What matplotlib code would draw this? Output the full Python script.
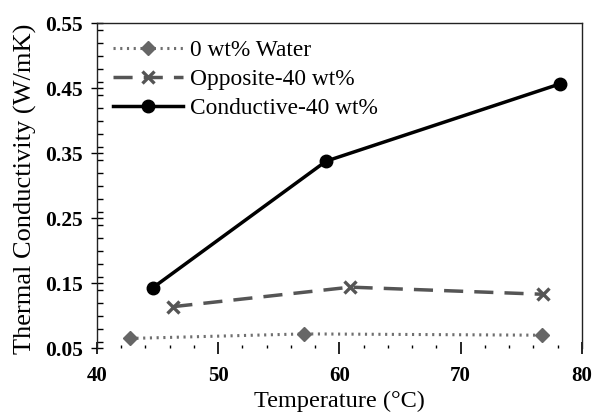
import matplotlib
matplotlib.use("Agg")
import matplotlib.pyplot as plt
from matplotlib.ticker import MultipleLocator, FixedLocator

plt.rcParams['font.family'] = ['Liberation Serif', 'DejaVu Serif']

# Data
water_x = [42.7, 57.1, 76.7]
water_y = [0.065, 0.072, 0.070]
opp_x = [46.3, 60.9, 76.8]
opp_y = [0.114, 0.144, 0.133]
cond_x = [44.6, 58.9, 78.2]
cond_y = [0.143, 0.338, 0.457]

labels = ["0 wt% Water", "Opposite-40 wt%", "Conductive-40 wt%"]
x_ticks = [40, 50, 60, 70, 80]
y_ticks = [0.05, 0.15, 0.25, 0.35, 0.45, 0.55]

fig = plt.figure(figsize=(5.95, 4.19), dpi=100)
ax = fig.add_axes([0.163, 0.169, 0.815, 0.775])

ax.plot(water_x, water_y, linestyle=(0, (0.7, 1.5)), color='#6f6f6f', lw=2.2,
        marker='D', markersize=7, markerfacecolor='#666666', markeredgecolor='#666666',
        label=labels[0])
ax.plot(opp_x, opp_y, linestyle=(0, (5.5, 3.2)), color='#555555', lw=2.5,
        marker='x', markersize=9, markeredgewidth=2.4, label=labels[1])
ax.plot(cond_x, cond_y, linestyle='-', color='black', lw=2.5,
        marker='o', markersize=9, label=labels[2])

ax.set_xlim(40, 80)
ax.set_ylim(0.05, 0.55)
ax.xaxis.set_major_locator(FixedLocator(x_ticks))
ax.yaxis.set_major_locator(FixedLocator(y_ticks))
ax.xaxis.set_minor_locator(MultipleLocator(2))
ax.yaxis.set_minor_locator(MultipleLocator(0.02))
ax.set_xticklabels([str(v) for v in x_ticks], fontweight='bold', fontsize=15)
ax.set_yticklabels([f"{v:.2f}" for v in y_ticks], fontweight='bold', fontsize=15.5)

ax.tick_params(axis='x', which='major', direction='inout', length=9, width=1.2, pad=8)
ax.tick_params(axis='x', which='minor', direction='in', length=2.5, width=1.0)
ax.tick_params(axis='y', which='major', direction='inout', length=8, width=1.0, pad=6)
ax.tick_params(axis='y', which='minor', direction='in', length=4, width=1.0)

ax.spines['bottom'].set_visible(False)
for s in ['top', 'left', 'right']:
    ax.spines[s].set_linewidth(1.0)
    ax.spines[s].set_color('#222222')

ax.set_xlabel("Temperature (°C)", fontsize=17.5, labelpad=4)
ax.set_ylabel("Thermal Conductivity (W/mK)", fontsize=19, labelpad=5)
ax.yaxis.set_label_coords(-0.124, 0.49)

ax.legend(loc='upper left', frameon=False, fontsize=16.8, handlelength=3.0,
          handletextpad=0.3, labelspacing=0.33, borderaxespad=0.3,
          bbox_to_anchor=(0.0, 1.0))

fig.savefig("out.png", dpi=100)
